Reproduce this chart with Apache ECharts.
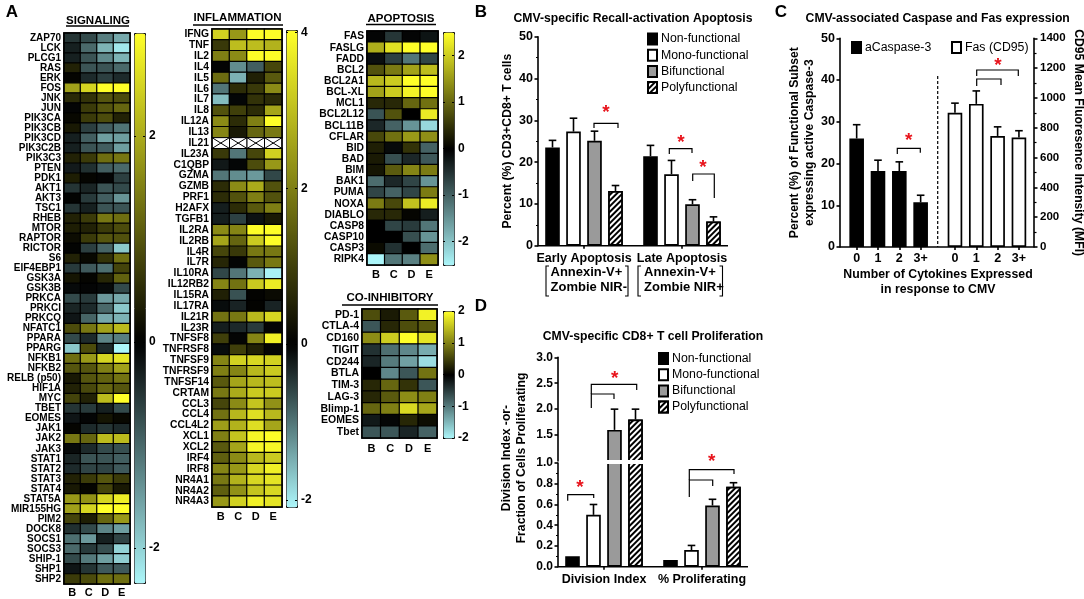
<!DOCTYPE html>
<html><head><meta charset="utf-8">
<script src="https://cdn.jsdelivr.net/npm/echarts@6/dist/echarts.min.js"></script>
<style>html,body{margin:0;padding:0;background:#fff}#c{width:1084px;height:599px}</style>
</head><body><div id="c"></div>
<script>
const samples = ['B','C','D','E'];

const signalingGenes = ['ZAP70','LCK','PLCG1','RAS','ERK','FOS','JNK','JUN','PIK3CA','PIK3CB','PIK3CD','PIK3C2B','PIK3C3','PTEN','PDK1','AKT1','AKT3','TSC1','RHEB','MTOR','RAPTOR','RICTOR','S6','EIF4EBP1','GSK3A','GSK3B','PRKCA','PRKCI','PRKCQ','NFATC1','PPARA','PPARG','NFKB1','NFKB2','RELB (p50)','HIF1A','MYC','TBET','EOMES','JAK1','JAK2','JAK3','STAT1','STAT2','STAT3','STAT4','STAT5A','MIR155HG','PIM2','DOCK8','SOCS1','SOCS3','SHIP-1','SHP1','SHP2'];
const signalingValues = [
[-0.5,-0.7,-1.2,-1.6],[-0.3,-1.0,-1.7,-2.2],[-0.3,-0.8,-1.3,-1.7],[0.4,-0.8,-0.8,-1.0],[0.05,-0.4,-0.6,-0.4],
[1.9,2.5,3,3],[0.5,0.6,1.0,0.9],[-0.05,0.7,1.0,1.2],[0.1,0.7,0.9,0.4],[0.3,-0.6,-0.9,-1.1],
[-0.3,-0.9,-1.5,-1.5],[-0.3,-0.8,-0.9,-1.5],[0.4,0.7,1.3,1.4],[-0.25,-0.45,-0.9,-1.0],[0.35,0.05,-0.05,-0.6],
[-0.5,-0.35,-0.8,-0.7],[0,-0.55,-0.9,-1.4],[-0.5,-0.3,-0.8,-0.8],[0.4,0.7,1.4,1.3],[0.35,0.4,0.7,0.9],
[0.15,0.7,1.0,0.95],[0,-0.6,-0.95,-1.9],[0.4,0.1,0.6,1.3],[-0.55,-0.85,-1.05,0.8],[0.25,0.05,0.45,1.15],
[-0.1,-0.05,-0.1,-0.7],[-0.7,-0.55,-1.45,-1.6],[-0.35,-0.4,-1.0,-1.9],[-0.2,-0.95,-1.6,-1.7],[0.9,1.4,1.9,2.2],
[-0.7,-0.4,-1.25,-1.2],[-1.9,0.9,-0.4,-2.34],[1.3,1.8,2.5,2.7],[1.0,1.0,1.5,1.9],[0.3,1.0,1.15,1.35],
[0.4,0.85,1.2,1.0],[0.8,0.4,2.2,3],[-0.5,-0.55,-0.3,-0.7],[-0.2,-0.05,0.25,0.1],[0.05,-0.4,-0.5,-0.4],
[1.4,1.2,2.2,2.2],[-0.1,-0.4,-0.7,-0.75],[-0.35,-0.8,-0.8,-0.9],[-0.4,-0.65,-0.65,-0.85],[0.4,0.7,1.0,0.7],
[0.3,0.05,0.8,0.3],[1.8,1.7,2.5,2.8],[1.9,2.5,3,3],[0.8,0.35,1.2,1.8],[-0.45,-0.7,-1.25,-1.5],
[-1.05,-1.45,-0.3,-0.65],[-1.0,-0.55,-0.75,-2.0],[-0.7,-1.15,-1.5,-1.95],[-0.2,-0.5,-0.85,-0.85],[0.7,0.9,1.3,1.3]];

const inflammationGenes = ['IFNG','TNF','IL2','IL4','IL5','IL6','IL7','IL8','IL12A','IL13','IL21','IL23A','C1QBP','GZMA','GZMB','PRF1','H2AFX','TGFB1','IL2RA','IL2RB','IL4R','IL7R','IL10RA','IL12RB2','IL15RA','IL17RA','IL21R','IL23R','TNFSF8','TNFRSF8','TNFSF9','TNFRSF9','TNFSF14','CRTAM','CCL3','CCL4','CCL4L2','XCL1','XCL2','IRF4','IRF8','NR4A1','NR4A2','NR4A3'];
const inflammationValues = [
[3.3,2.4,4,4],[0.9,3,3,2.8],[2,2.2,4,4],[0,-1.2,-0.8,1.1],[1.7,-1.5,0.5,1.4],
[-1.0,0.7,0.9,2.2],[-1.6,-0.05,0.8,0.7],[1.3,1,0.7,2.6],[2.2,0.7,2,4],[2.1,0.4,1.6,1.9],
[null,null,null,null],[0.9,-1.0,1.1,3.3],[-0.2,-0.05,1.2,2.4],[-1.0,-1.2,-1.3,-0.6],[0.7,2.2,2.7,1.3],
[0.7,1.3,2,1.3],[-0.25,0.7,1.4,2],[-0.25,-0.55,-0.15,0.4],[2.2,2.1,4,4],[2.6,1.6,3.2,4],
[1.1,0.9,1.9,1.9],[0.6,0,1.4,1.9],[-0.6,-1.0,-1.5,-2.05],[2.1,1.8,3.2,3.7],[0.5,-0.7,0.05,0.15],
[-0.1,-0.3,0.05,-0.3],[1.8,1.9,2.9,3.4],[-0.25,-0.35,-0.5,-0.03],[1,0,2.1,3.8],[-0.1,1.0,0.5,0],
[2.1,3.3,3.4,3.3],[2.0,2.1,2.9,3.2],[1.4,2.6,2.9,3],[1.9,2.7,3.2,3.2],[1.1,2.2,3.1,2.3],
[1.8,2.9,3.5,2.9],[2.5,2.8,3.5,2.6],[2,3.1,3.9,4],[1.4,2.6,3.9,3.9],[1.5,2.2,2.9,3.2],
[2.1,2.4,3.4,3.8],[1.9,2.8,3.4,3.6],[1.5,2.3,3.1,3.4],[2.4,3.3,3.8,3.6]];

const apoptosisGenes = ['FAS','FASLG','FADD','BCL2','BCL2A1','BCL-XL','MCL1','BCL2L12','BCL11B','CFLAR','BID','BAD','BIM','BAK1','PUMA','NOXA','DIABLO','CASP8','CASP10','CASP3','RIPK4'];
const apoptosisValues = [
[-0.05,-0.55,-0.05,-0.2],[1.7,2.2,2.5,2.5],[-0.15,-0.65,-1.2,-0.7],[0.8,1.2,1.6,1.85],[1.8,2.0,2.5,2.5],
[1.6,2,2.4,2.5],[0.4,0.4,1,1.1],[-0.85,0.8,0,2.3],[-0.4,-1.0,-1.5,-2.2],[0.7,1.1,1.5,1.4],
[0.3,-0.1,0.5,-1.0],[0.25,-0.8,-0.4,-0.9],[0.2,0.9,1.3,1.2],[-1.1,-0.4,-0.7,-1.5],[-0.7,-1.0,-0.7,1.2],
[1.2,0.7,1.9,2.3],[0.4,0.4,0.05,-0.3],[0,-0.7,-0.6,-1.2],[0,0,-0.8,-1.5],[0.1,-0.5,0,-1.1],[-2.5,-1.2,-1.3,1.4]];

const inhibitoryGenes = ['PD-1','CTLA-4','CD160','TIGIT','CD244','BTLA','TIM-3','LAG-3','Blimp-1','EOMES','Tbet'];
const inhibitoryValues = [
[0.6,0.2,0.7,1.9],[-0.7,0.3,0.6,0.7],[1.1,1.6,2,1.8],[-0.4,-0.9,-1.1,-1.4],[-0.3,-1,-1.3,-1.8],
[0,-1.1,-0.7,0.9],[0.3,0.8,0.4,-0.7],[0.3,0.7,1.1,1],[0.8,1,1.7,1.3],[-0.2,-0.05,0.3,0.1],[-0.7,-0.7,-0.3,-0.8]];

const funcNames = ['Non-functional','Mono-functional','Bifunctional','Polyfunctional'];
const apoptosisGroups = ['Early Apoptosis','Late Apoptosis'];
const apoptosisBarMeans = [[23.5,21.4],[27.3,17.1],[25.1,9.9],[13.1,5.8]];
const apoptosisBarTops  = [[25.2,24],[30.5,20.4],[27.4,11],[14.4,6.9]];

const cytokineCounts = ['0','1','2','3+'];
const caspaseMeans = [26,18.2,18.2,10.7];
const caspaseTops  = [29.3,20.8,20.4,12.4];
const fasMeans = [900,960,745,735];
const fasTops  = [965,1047,806,780];

const prolifGroups = ['Division Index','% Proliferating'];
const prolifMeans = [[0.1,0.065],[0.5,0.16],[1.6,0.59],[1.8,0.77]];
const prolifTops  = [[0.1,0.065],[0.6,0.205],[2.0,0.65],[2.0,0.81]];

const FONT = '"Liberation Sans", Arial, sans-serif';
const YEL=[255,255,40], CYA=[172,246,250];
function ramp(min,max){
  const n=60,out=[];
  for(let i=0;i<=n;i++){
    const v=min+(max-min)*i/n, t=v>=0?v/max:v/min, c=v>=0?YEL:CYA;
    out.push('rgb('+c.map(k=>Math.round(k*t)).join(',')+')');
  }
  return out;
}

const grid=[],xAxis=[],yAxis=[],series=[],visualMap=[],title=[],legend=[],graphic=[];
function addGrid(o){grid.push(Object.assign({outerBoundsMode:'none',containLabel:false},o));return grid.length-1;}

function line(points,w){graphic.push({type:'polyline',silent:true,z:20,shape:{points:points},style:{stroke:'#000',fill:null,lineWidth:w||1.2}});}
function txt(t,x,y,font,extra){graphic.push(Object.assign({type:'text',silent:true,z:20,x:x,y:y,style:Object.assign({text:t,font:font,fill:'#000',align:'center',textAlign:'center',verticalAlign:'middle',textVerticalAlign:'middle'},extra||{})}));}
function star(x,y){txt('*',x,y+4,'bold 19px '+FONT,{fill:'#e8141c'});}
function head(text,x,y,size){title.push({text:text,left:x,top:y,textAlign:'center',textVerticalAlign:'middle',padding:0,textStyle:{fontFamily:FONT,fontWeight:'bold',fontSize:size||11,color:'#000'}});}

function heatPanel(cfg){
  const g=addGrid({left:cfg.x,top:cfg.y,width:cfg.w,height:cfg.h,show:true,borderColor:'#000',borderWidth:1.5,backgroundColor:'transparent',z:3});
  xAxis.push({type:'category',gridIndex:g,data:samples,position:'bottom',axisLine:{show:false},axisTick:{show:false},
    axisLabel:{color:'#000',fontWeight:'bold',fontSize:cfg.xs||11,margin:cfg.xm,fontFamily:FONT}});
  yAxis.push({type:'category',gridIndex:g,data:cfg.genes,inverse:true,axisLine:{show:false},axisTick:{show:false},
    axisLabel:{color:'#000',fontWeight:'bold',fontSize:cfg.ls,margin:3,interval:0,fontFamily:FONT}});
  const data=[],na=[];
  cfg.values.forEach((row,r)=>row.forEach((v,c)=>{ if(v===null) na.push([c,r]); else data.push([c,r,v]); }));
  const si=series.length;
  series.push({type:'heatmap',name:cfg.name,xAxisIndex:xAxis.length-1,yAxisIndex:yAxis.length-1,data:data,
    itemStyle:{borderColor:'#000',borderWidth:1.2},emphasis:{disabled:true},silent:true});
  if(na.length) series.push({type:'custom',name:cfg.name+' n/a',xAxisIndex:xAxis.length-1,yAxisIndex:yAxis.length-1,data:na,silent:true,
    renderItem:function(p,api){
      const c=api.coord([api.value(0),api.value(1)]),s=api.size([1,1]),x0=c[0]-s[0]/2,y0=c[1]-s[1]/2,x1=x0+s[0],y1=y0+s[1],st={stroke:'#000',lineWidth:1,fill:'#fff'};
      return {type:'group',children:[
        {type:'rect',shape:{x:x0,y:y0,width:s[0],height:s[1]},style:st},
        {type:'line',shape:{x1:x0,y1:y0,x2:x1,y2:y1},style:st},
        {type:'line',shape:{x1:x0,y1:y1,x2:x1,y2:y0},style:st}]};
    }});
  visualMap.push({type:'continuous',seriesIndex:si,min:cfg.min,max:cfg.max,calculable:false,hoverLink:false,showLabel:false,text:null,
    left:cfg.bx,top:cfg.by,itemWidth:cfg.bw,itemHeight:cfg.bh,orient:'vertical',padding:0,borderColor:'#111',borderWidth:1,
    inRange:{color:ramp(cfg.min,cfg.max)},z:2});
  const b=addGrid({left:cfg.bx,top:cfg.by,width:cfg.bw,height:cfg.bh,show:false});
  xAxis.push({type:'category',gridIndex:b,data:[''],show:false});
  yAxis.push({type:'value',gridIndex:b,position:'right',min:cfg.min,max:cfg.max,z:10,splitLine:{show:false},axisLine:{show:false},
    axisTick:{show:true,inside:true,length:2,lineStyle:{color:'#000',width:1},customValues:cfg.ticks},
    axisLabel:{color:'#000',fontWeight:'bold',fontSize:12,margin:4,fontFamily:FONT,customValues:cfg.ticks}});
  yAxis.push({type:'value',gridIndex:b,position:'left',min:cfg.min,max:cfg.max,z:10,splitLine:{show:false},axisLine:{show:false},
    axisTick:{show:true,inside:true,length:2,lineStyle:{color:'#000',width:1},customValues:cfg.ticks},axisLabel:{show:false}});
  series.push({type:'line',name:'',xAxisIndex:xAxis.length-1,yAxisIndex:yAxis.length-2,data:[],silent:true});
}

heatPanel({name:'SIGNALING',genes:signalingGenes,values:signalingValues,x:64,y:33,w:66,h:551,ls:10,xm:3,min:-2.34,max:3,ticks:[-2,0,2],bx:134,by:33,bw:11,bh:550});
heatPanel({name:'INFLAMMATION',genes:inflammationGenes,values:inflammationValues,x:212,y:29,w:70,h:478,ls:10.3,xm:4,min:-2.09,max:4.03,ticks:[-2,0,2,4],bx:286,by:30,bw:11,bh:477});
heatPanel({name:'APOPTOSIS',genes:apoptosisGenes,values:apoptosisValues,x:367,y:31,w:71,h:234,ls:10.3,xm:4,min:-2.5,max:2.5,ticks:[-2,-1,0,1,2],bx:443,by:32,bw:11,bh:233});
heatPanel({name:'CO-INHIBITORY',genes:inhibitoryGenes,values:inhibitoryValues,x:362,y:309,w:75,h:129,ls:10.5,xm:5,min:-2,max:2,ticks:[-2,-1,0,1,2],bx:443,by:311,bw:11,bh:127});

head('SIGNALING',98,20.5,11.5); line([[66,26],[129,26]],1.3);
head('INFLAMMATION',237.5,18,11.5); line([[193,25],[283,25]],1.3);
head('APOPTOSIS',401,19,11.5); line([[366,24.5],[436,24.5]],1.3);
head('CO-INHIBITORY',390,298,11.5); line([[342,305],[438,305]],1.3);

const BW=14.6, BG='43.8%';
const POLY_DECAL={symbol:'rect',symbolSize:1,dashArrayX:[1,0],dashArrayY:[1.1,1.4],rotation:-Math.PI/4,color:'#000',backgroundColor:'#fff'};
function barStyle(i){
  const s={color:['#000','#fff','#9a9a9a','#fff'][i],borderColor:'#000',borderWidth:1.7};
  if(i===3) s.decal=POLY_DECAL;
  return s;
}
function errors(xi,yi,pts,off,clip){
  return {type:'custom',name:'',xAxisIndex:xi,yAxisIndex:yi,data:pts,silent:true,clip:!!clip,z:3,
    renderItem:function(p,api){
      const a=api.coord([api.value(0),api.value(1)]),b=api.coord([api.value(0),api.value(2)]),x=a[0]+off,st={stroke:'#000',lineWidth:1.6,fill:null};
      return {type:'group',children:[
        {type:'line',shape:{x1:x,y1:a[1],x2:x,y2:b[1]},style:st},
        {type:'line',shape:{x1:x-3.8,y1:b[1],x2:x+3.8,y2:b[1]},style:st}]};
    }};
}
const AX={lineStyle:{color:'#000',width:1.6}};
function valueAxisBase(g,min,max,interval,extra){
  return Object.assign({type:'value',gridIndex:g,min:min,max:max,interval:interval,splitLine:{show:false},axisLine:Object.assign({show:true},AX),
    axisTick:Object.assign({show:true,length:3.5},AX),axisLabel:{color:'#000',fontWeight:'bold',fontSize:12.5,margin:5,fontFamily:FONT,formatter:v=>String(v)}},extra||{});
}
const NAME={color:'#000',fontWeight:'bold',fontSize:12.2,fontFamily:FONT,lineHeight:15};
function legendAt(names,x,y,gap,fs){
  legend.push({data:names,orient:'vertical',left:x,top:y,padding:0,itemWidth:9,itemHeight:11,itemGap:gap,selectedMode:false,icon:'rect',
    textStyle:{color:'#000',fontSize:fs||12.3,fontFamily:FONT,padding:[0,0,0,-1]}});
}

// Panel B
let g=addGrid({left:535,top:36.7,width:196,height:209});
xAxis.push({type:'category',gridIndex:g,data:apoptosisGroups,axisLine:{show:false},axisTick:Object.assign({show:true,alignWithLabel:true,length:3},AX),
  axisLabel:{color:'#000',fontWeight:'bold',fontSize:12.5,interval:0,margin:6,fontFamily:FONT}});
yAxis.push(valueAxisBase(g,0,50,10,{offset:-3,minorTick:{show:true,splitNumber:2,length:2,lineStyle:{color:'#000',width:1.2}},
  name:'Percent (%) CD3+CD8+ T cells',nameLocation:'middle',nameRotate:90,nameGap:22,nameTextStyle:NAME}));
let xi=xAxis.length-1, yi=yAxis.length-1;
funcNames.forEach((n,i)=>{
  series.push({type:'bar',name:n,xAxisIndex:xi,yAxisIndex:yi,data:apoptosisBarMeans[i],barWidth:BW,barGap:BG,itemStyle:barStyle(i),silent:true});
});
funcNames.forEach((n,i)=>{
  series.push(errors(xi,yi,apoptosisBarMeans[i].map((v,k)=>[k,v,apoptosisBarTops[i][k]]),(i-1.5)*21));
});
line([[538,245.7],[728,245.7]],1.6);
head('CMV-specific Recall-activation Apoptosis',633,19,12.2);
legendAt(funcNames,647,32.5,3.2);
const LEFT={align:'left',textAlign:'left'};
txt('Annexin-V+',550.5,272,'bold 13px '+FONT,LEFT); txt('Zombie NIR-',550.5,287,'bold 13px '+FONT,LEFT);
txt('Annexin-V+',644,272,'bold 13px '+FONT,LEFT); txt('Zombie NIR+',644,287,'bold 13px '+FONT,LEFT);
[[546,549],[638,641]].forEach(p=>line([[p[1],266],[p[0],266],[p[0],296],[p[1],296]],1.1));
[[628,625],[722.5,719.5]].forEach(p=>line([[p[1],266],[p[0],266],[p[0],296],[p[1],296]],1.1));
line([[594,128],[594,123.3],[618,123.3],[618,128]]); star(606,109);
line([[669.3,154],[669.3,148.7],[692,148.7],[692,153]]); star(681,139);
line([[692.7,181],[692.7,174],[714.3,174],[714.3,198]]); star(703,164);

// Panel C
g=addGrid({left:846,top:38.3,width:85.3,height:208.7});
xAxis.push({type:'category',gridIndex:g,data:cytokineCounts,axisLine:{show:false},axisTick:Object.assign({show:true,alignWithLabel:true,length:3},AX),
  axisLabel:{color:'#000',fontWeight:'bold',fontSize:12.5,margin:5,fontFamily:FONT}});
yAxis.push(valueAxisBase(g,0,50,10,{offset:6,name:'Percent (%) of Functional Subset\nexpressing active Caspase-3',nameLocation:'middle',nameRotate:90,nameGap:14,nameTextStyle:NAME}));
xi=xAxis.length-1; yi=yAxis.length-1;
series.push({type:'bar',name:'aCaspase-3',xAxisIndex:xi,yAxisIndex:yi,data:caspaseMeans,barWidth:BW,itemStyle:barStyle(0),silent:true});
series.push(errors(xi,yi,caspaseMeans.map((v,k)=>[k,v,caspaseTops[k]]),0));
g=addGrid({left:944.3,top:38.3,width:85.3,height:208.7});
xAxis.push({type:'category',gridIndex:g,data:cytokineCounts,axisLine:{show:false},axisTick:Object.assign({show:true,alignWithLabel:true,length:3},AX),
  axisLabel:{color:'#000',fontWeight:'bold',fontSize:12.5,margin:5,fontFamily:FONT}});
yAxis.push(valueAxisBase(g,0,1400,200,{position:'right',offset:4.4,minorTick:{show:true,splitNumber:2,length:2.5,lineStyle:{color:'#000',width:1.2}},
  axisLabel:{color:'#000',fontWeight:'bold',fontSize:11.5,margin:6,fontFamily:FONT,formatter:v=>String(v)},
  name:'CD95 Mean Fluoresence Intensity (MFI)',nameLocation:'middle',nameRotate:-90,nameGap:37,nameTextStyle:NAME}));
xi=xAxis.length-1; yi=yAxis.length-1;
series.push({type:'bar',name:'Fas (CD95)',xAxisIndex:xi,yAxisIndex:yi,data:fasMeans,barWidth:BW,itemStyle:barStyle(1),silent:true});
series.push(errors(xi,yi,fasMeans.map((v,k)=>[k,v,fasTops[k]]),0));
line([[840,247],[1034,247]],1.6);
graphic.push({type:'line',silent:true,z:20,shape:{x1:937.7,y1:76,x2:937.7,y2:247},style:{stroke:'#000',lineWidth:1.2,lineDash:[3,2]}});
head('CMV-associated Caspase and Fas expression',937.7,19,12.2);
legendAt(['aCaspase-3'],851,41,5,12.3);
legendAt(['Fas (CD95)'],951,41,5,12.3);
line([[897.3,154],[897.3,148.3],[920.3,148.3],[920.3,152.7]]); star(908.7,136.7);
line([[976.7,86],[976.7,79],[1001,79],[1001,85]]);
line([[976.7,76],[976.7,70],[1018.3,70],[1018.3,76]]); star(998,61.7);
title.push({text:'Number of Cytokines Expressed\nin response to CMV',left:938,top:267,textAlign:'center',padding:0,
  textStyle:{fontFamily:FONT,fontWeight:'bold',fontSize:12.3,color:'#000',lineHeight:15}});

// Panel D
g=addGrid({left:555,top:357.3,width:196,height:103.7});
xAxis.push({type:'category',gridIndex:g,data:prolifGroups,show:false});
yAxis.push(valueAxisBase(g,1,3,0.5,{offset:-3,axisLabel:{color:'#000',fontWeight:'bold',fontSize:12,margin:5,fontFamily:FONT,showMinLabel:false,formatter:v=>v.toFixed(1)}}));
xi=xAxis.length-1; yi=yAxis.length-1;
funcNames.forEach((n,i)=>{
  series.push({type:'bar',name:n,xAxisIndex:xi,yAxisIndex:yi,data:prolifMeans[i].map(v=>v>1?v:null),barWidth:BW,barGap:BG,itemStyle:barStyle(i),silent:true});
});
funcNames.forEach((n,i)=>{
  series.push(errors(xi,yi,prolifMeans[i].map((v,k)=>[k,v,prolifTops[i][k]]).filter(d=>d[1]>1),(i-1.5)*21));
});
g=addGrid({left:555,top:463,width:196,height:103.7});
xAxis.push({type:'category',gridIndex:g,data:prolifGroups,axisLine:{show:false},axisTick:Object.assign({show:true,alignWithLabel:true,length:3},AX),
  axisLabel:{color:'#000',fontWeight:'bold',fontSize:12.5,interval:0,margin:6,fontFamily:FONT}});
yAxis.push(valueAxisBase(g,0,1,0.2,{offset:-3,minorTick:{show:true,splitNumber:2,length:2,lineStyle:{color:'#000',width:1.2}},
  axisLabel:{color:'#000',fontWeight:'bold',fontSize:12,margin:5,fontFamily:FONT,formatter:v=>v.toFixed(1)}}));
xi=xAxis.length-1; yi=yAxis.length-1;
funcNames.forEach((n,i)=>{
  series.push({type:'bar',name:n,xAxisIndex:xi,yAxisIndex:yi,data:prolifMeans[i],barWidth:BW,barGap:BG,itemStyle:barStyle(i),silent:true});
});
funcNames.forEach((n,i)=>{
  series.push(errors(xi,yi,prolifMeans[i].map((v,k)=>[k,v,prolifTops[i][k]]).filter(d=>d[2]<=1&&d[2]>d[1]),(i-1.5)*21));
});
line([[558,566.7],[748,566.7]],1.6);
graphic.push({type:'rect',silent:true,z:15,shape:{x:560,y:460,width:188,height:4},style:{fill:'#fff'}});
head('CMV-specific CD8+ T cell Proliferation',653,337,12.2);
legendAt(funcNames,658,352,3.2);
graphic.push({type:'text',silent:true,z:20,x:514.5,y:458,rotation:Math.PI/2,style:{text:'Division Index -or-\nFraction of Cells Proliferating',font:'bold 12.2px '+FONT,lineHeight:15,fill:'#000',align:'center',textAlign:'center',verticalAlign:'middle',textVerticalAlign:'middle'}});
line([[567.7,500.7],[567.7,494.7],[593.7,494.7],[593.7,498]]); star(580,484);
line([[591.3,408],[591.3,394],[614,394],[614,399]]);
line([[591.3,394],[591.3,384.3],[636.7,384.3],[636.7,390]]); star(614.7,375);
line([[689.3,497],[689.3,480],[712.7,480],[712.7,486]]);
line([[689.3,480],[689.3,469.7],[734,469.7],[734,474]]); star(711.7,458);

[['A',12,12],['B',481,12],['C',781,12],['D',481,306]].forEach(d=>head(d[0],d[1],d[2],17));

const chart=echarts.init(document.getElementById('c'),null,{renderer:'canvas'});
chart.setOption({backgroundColor:'#fff',animation:false,textStyle:{fontFamily:FONT},tooltip:{show:false},
  title:title,grid:grid,xAxis:xAxis,yAxis:yAxis,series:series,visualMap:visualMap,legend:legend,graphic:{elements:graphic}});
</script></body></html>
